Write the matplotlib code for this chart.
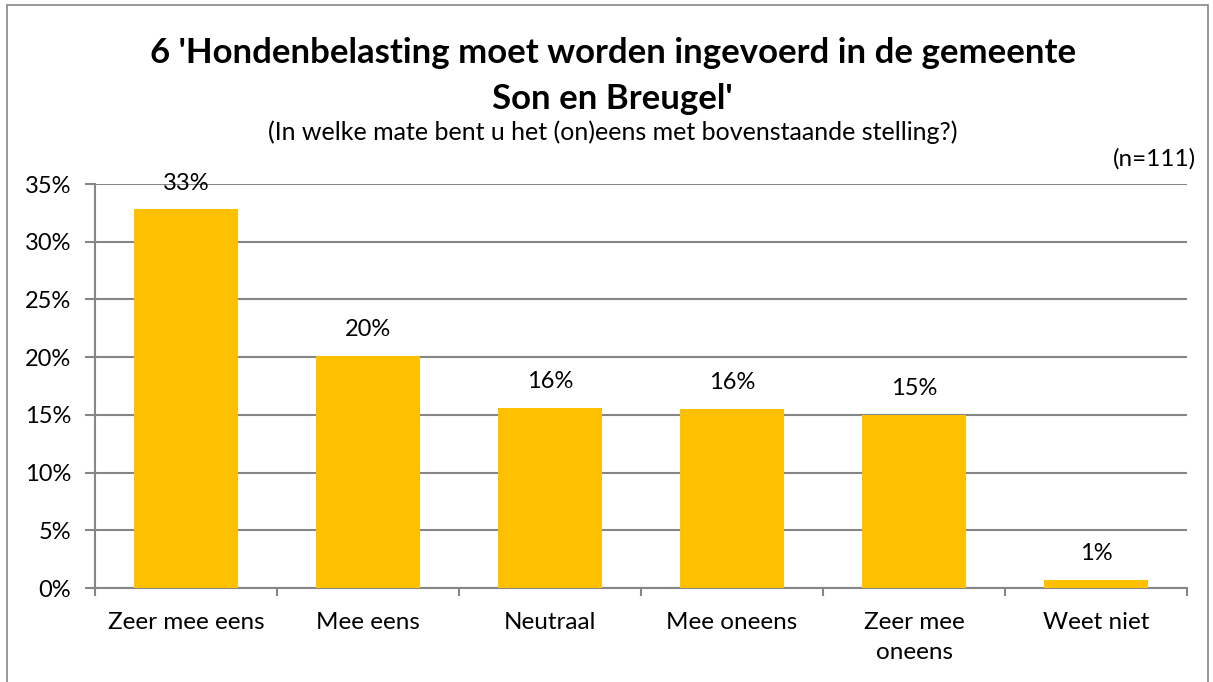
import matplotlib.pyplot as plt
from matplotlib.patches import Rectangle

plt.rcParams['font.family'] = ['Lato', 'DejaVu Sans']

# data
categories = ['Zeer mee eens', 'Mee eens', 'Neutraal', 'Mee oneens', 'Zeer mee\noneens', 'Weet niet']
values = [32.8, 20.1, 15.6, 15.5, 15.0, 0.7]
labels = ['33%', '20%', '16%', '16%', '15%', '1%']
yticks = [0, 5, 10, 15, 20, 25, 30, 35]

fig = plt.figure(figsize=(12.13, 6.82), dpi=100)
ax = fig.add_axes([0.0783, 0.1378, 0.9003, 0.5924])

x = range(len(categories))
ax.bar(x, values, width=0.57, color='#FFC000', zorder=3)

for xi, v, lab in zip(x, values, labels):
    ax.annotate(lab, (xi, v), xytext=(0, 19), textcoords='offset points',
                ha='center', va='center', fontsize=17)

grey = '#868686'
ax.set_ylim(0, 35)
ax.set_xlim(-0.5, len(categories) - 0.5)
ax.set_yticks(yticks)
ax.set_yticklabels([f'{t}%' for t in yticks], fontsize=17)
ax.yaxis.grid(True, color=grey, linewidth=1.5, zorder=0)

ax.set_xticks(list(x))
ax.set_xticklabels(categories, fontsize=17.5, linespacing=1.55)
ax.set_xticks([i - 0.5 for i in range(len(categories) + 1)], minor=True)
ax.tick_params(axis='x', which='major', length=0, pad=17)
ax.tick_params(axis='x', which='minor', length=6, color=grey, width=1.5)
ax.tick_params(axis='y', length=7, color=grey, width=1.5, pad=10)

for s in ['top', 'right']:
    ax.spines[s].set_visible(False)
for s in ['left', 'bottom']:
    ax.spines[s].set_color(grey)
    ax.spines[s].set_linewidth(1.5)

# titles
fig.text(0.505, 0.908, "6 'Hondenbelasting moet worden ingevoerd in de gemeente",
         ha='center', va='baseline', fontsize=25, fontweight='bold')
fig.text(0.505, 0.840, "Son en Breugel'", ha='center', va='baseline',
         fontsize=25, fontweight='bold')
fig.text(0.505, 0.795, "(In welke mate bent u het (on)eens met bovenstaande stelling?)",
         ha='center', va='baseline', fontsize=18)
fig.text(0.986, 0.757, "(n=111)", ha='right', va='baseline', fontsize=17.5)

# chart border
fig.patches.append(Rectangle((0.006, -0.01), 0.99, 1.003, transform=fig.transFigure,
                             fill=False, edgecolor=grey, linewidth=1.2))

fig.savefig('out.png', dpi=100)
